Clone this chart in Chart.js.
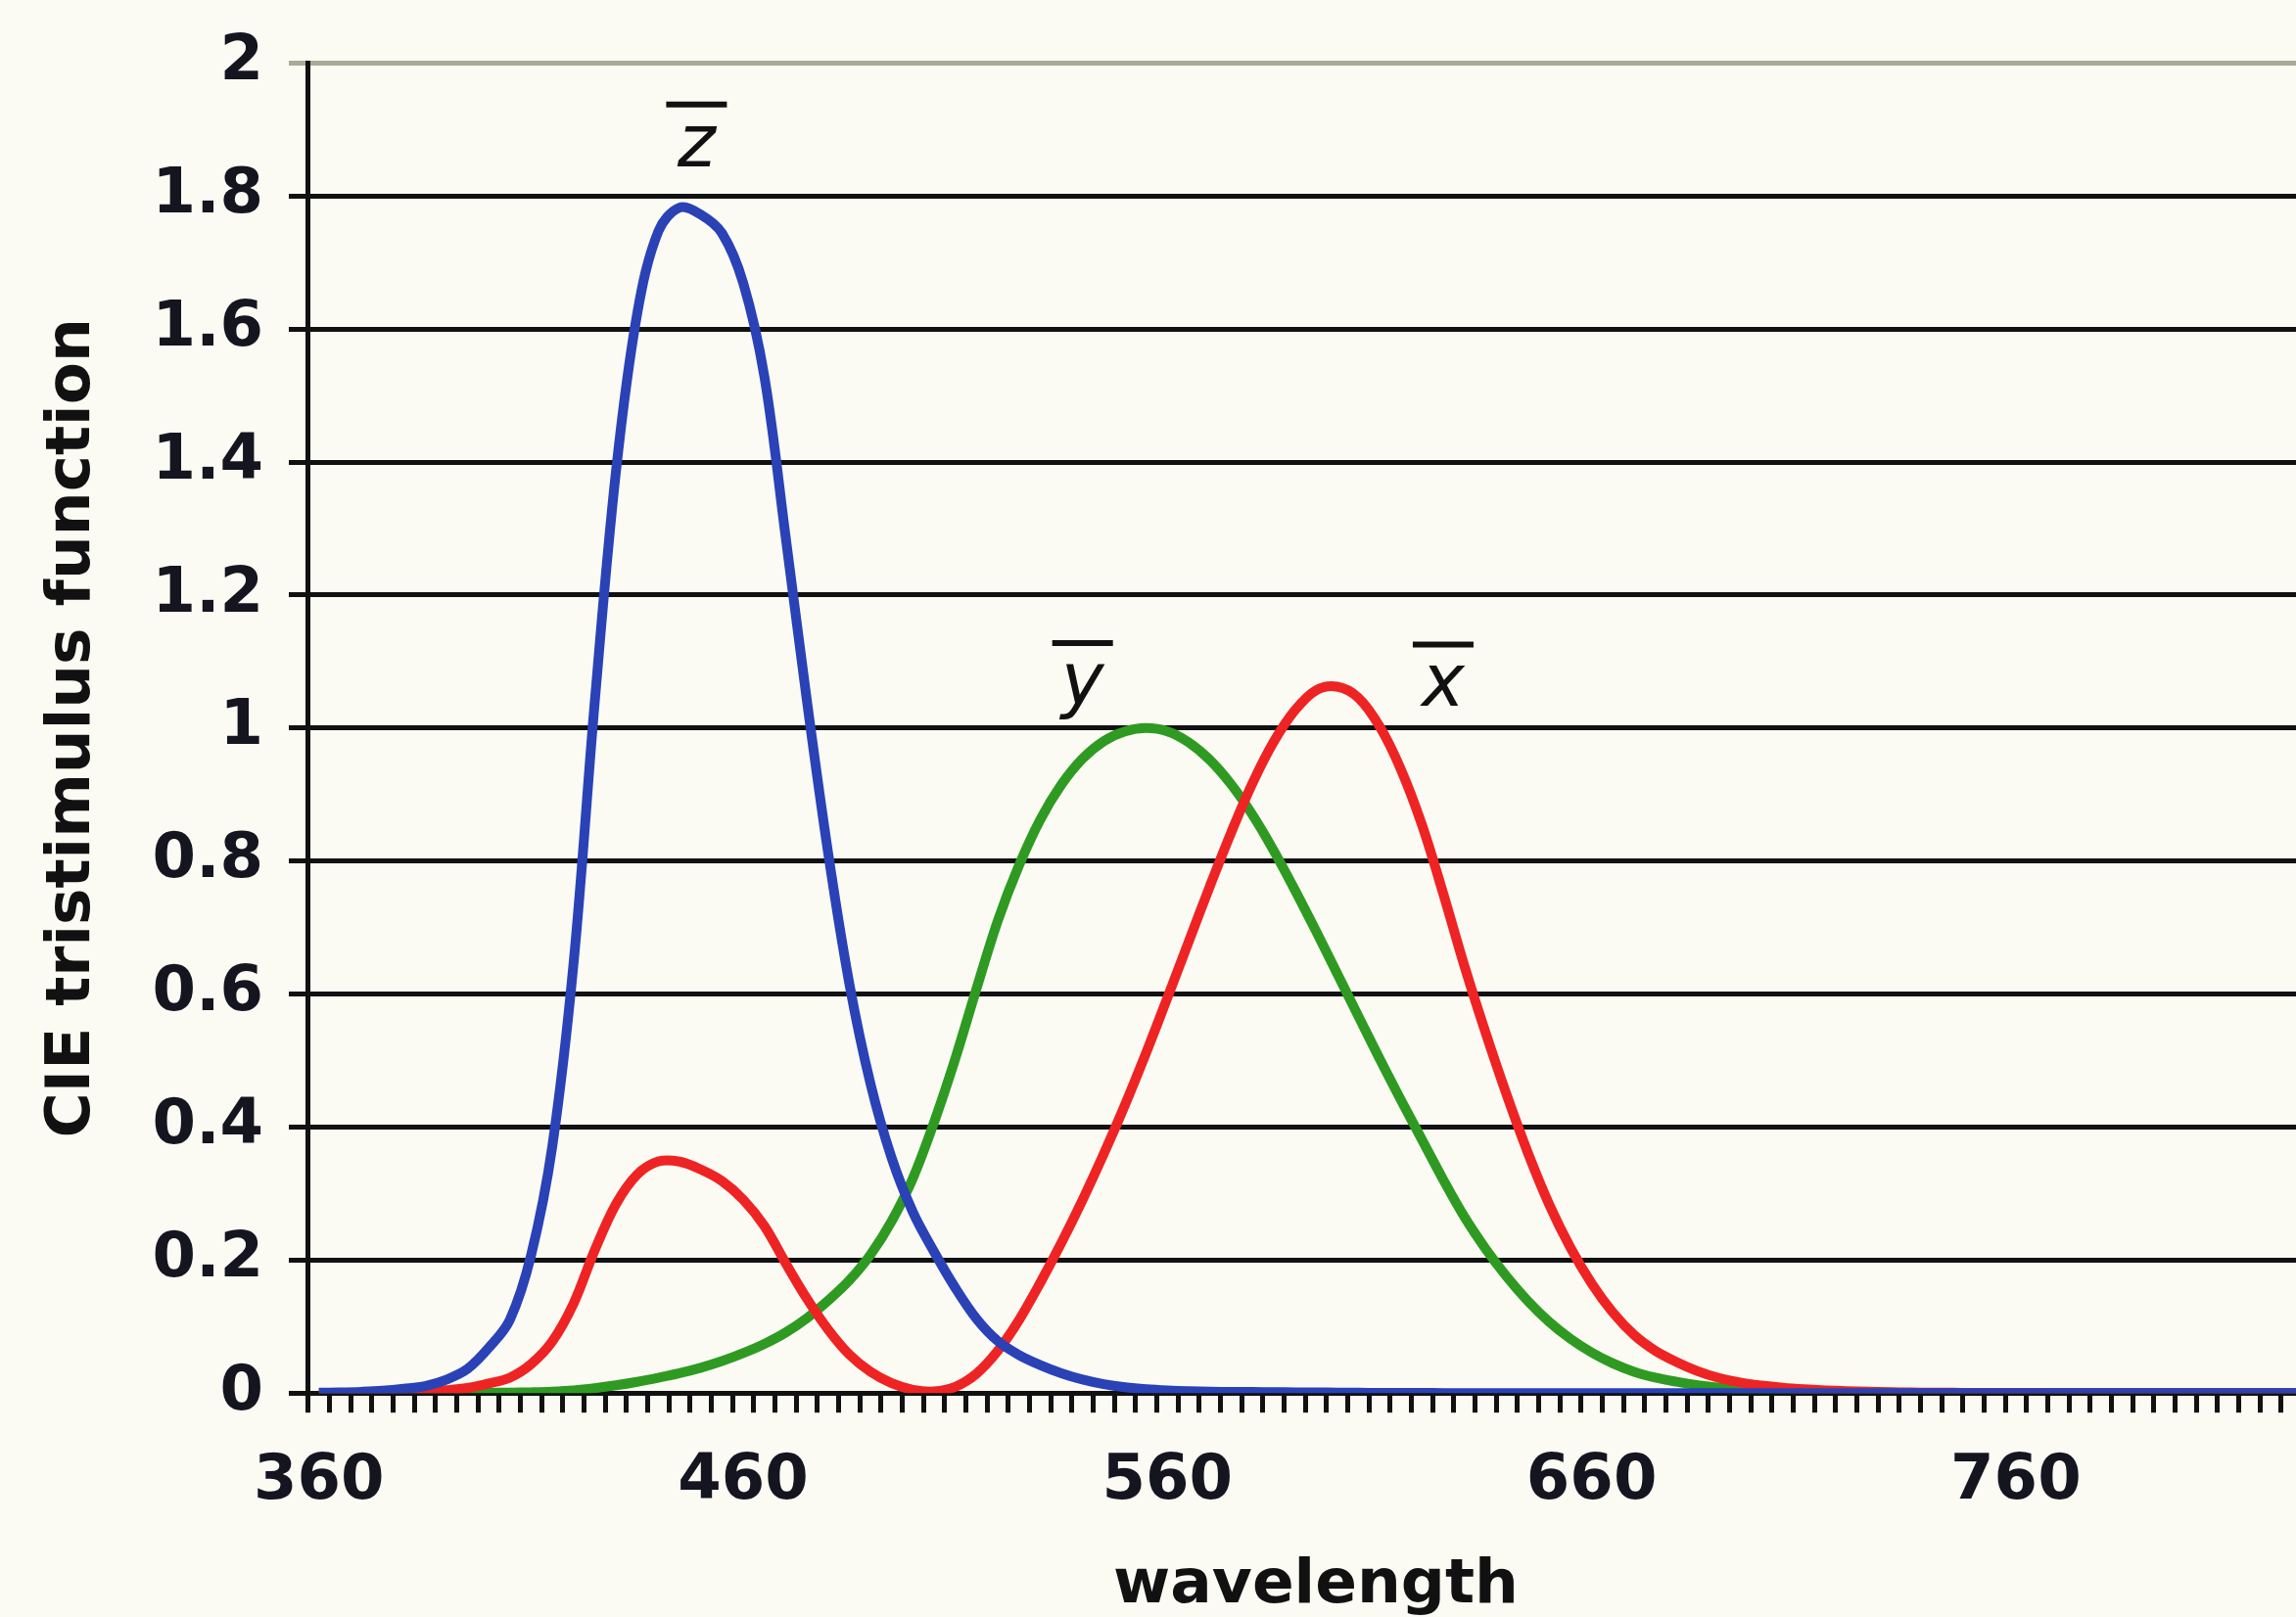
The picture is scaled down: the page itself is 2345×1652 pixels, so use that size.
<!DOCTYPE html>
<html>
<head>
<meta charset="utf-8">
<script src="https://cdn.jsdelivr.net/npm/chart.js@4.4.1/dist/chart.umd.min.js"></script>
<style>
  html, body { margin: 0; padding: 0; background: #fbfbf4; overflow: hidden; }
  #wrap { width: 2400px; height: 1652px; }
</style>
</head>
<body>
<div id="wrap"><canvas id="cie"></canvas></div>
<script>
// CIE 1931 colour matching functions, every 5 nm
const wavelengths = [
  360, 365, 370, 375, 380, 385, 390, 395, 400, 405, 410, 415, 420, 425, 430, 435, 440, 445, 450, 455,
  460, 465, 470, 475, 480, 485, 490, 495, 500, 505, 510, 515, 520, 525, 530, 535, 540, 545, 550, 555,
  560, 565, 570, 575, 580, 585, 590, 595, 600, 605, 610, 615, 620, 625, 630, 635, 640, 645, 650, 655,
  660, 665, 670, 675, 680, 685, 690, 695, 700, 705, 710, 715, 720, 725, 730, 735, 740, 745, 750, 755,
  760, 765, 770, 775, 780, 785, 790, 795, 800, 805, 810, 815, 820, 825, 830
];

const xBar = [
  0.00013, 0.00023, 0.00042, 0.00074, 0.00137, 0.00224, 0.00424, 0.00765, 0.01431, 0.02319,
  0.04351, 0.07763, 0.13438, 0.21477, 0.28390, 0.32850, 0.34828, 0.34806, 0.33620, 0.31870,
  0.29080, 0.25110, 0.19536, 0.14210, 0.09564, 0.05795, 0.03201, 0.01470, 0.00490, 0.00240,
  0.00930, 0.02910, 0.06327, 0.10960, 0.16550, 0.22575, 0.29040, 0.35970, 0.43345, 0.51205,
  0.59450, 0.67840, 0.76210, 0.84250, 0.91630, 0.97860, 1.02630, 1.05670, 1.06220, 1.04560,
  1.00260, 0.93840, 0.85445, 0.75140, 0.64240, 0.54190, 0.44790, 0.36080, 0.28350, 0.21870,
  0.16490, 0.12120, 0.08740, 0.06360, 0.04677, 0.03290, 0.02270, 0.01584, 0.01136, 0.00811,
  0.00579, 0.00411, 0.00290, 0.00205, 0.00144, 0.00100, 0.00069, 0.00048, 0.00033, 0.00024,
  0.00017, 0.00012, 0.00008, 0.00006, 0.00004, 0.00003, 0.00002, 0.00002, 0.00001, 0.00001,
  0.00001, 0, 0, 0, 0
];

const yBar = [
  0.000004, 0.000007, 0.000012, 0.000022, 0.000039, 0.000064, 0.00012, 0.000217, 0.000396, 0.00064,
  0.00121, 0.00218, 0.0040, 0.0073, 0.0116, 0.01684, 0.0230, 0.0298, 0.0380, 0.0480,
  0.0600, 0.0739, 0.09098, 0.1126, 0.13902, 0.1693, 0.20802, 0.2586, 0.3230, 0.4073,
  0.5030, 0.6082, 0.7100, 0.7932, 0.8620, 0.91485, 0.9540, 0.9803, 0.99495, 1.0000,
  0.9950, 0.9786, 0.9520, 0.9154, 0.8700, 0.8163, 0.7570, 0.6949, 0.6310, 0.5668,
  0.5030, 0.4412, 0.3810, 0.3210, 0.2650, 0.2170, 0.1750, 0.1382, 0.1070, 0.0816,
  0.0610, 0.04458, 0.0320, 0.0232, 0.0170, 0.01192, 0.00821, 0.00572, 0.0041, 0.00293,
  0.00209, 0.00148, 0.00105, 0.00074, 0.00052, 0.00036, 0.00025, 0.00017, 0.00012, 0.000085,
  0.00006, 0.000042, 0.00003, 0.000021, 0.000015, 0.00001, 0.000007, 0.000005, 0.000004, 0.000003,
  0.000002, 0.000001, 0.000001, 0, 0
];

const zBar = [
  0.00061, 0.00109, 0.00195, 0.00349, 0.00645, 0.01055, 0.02005, 0.03621, 0.06785, 0.1102,
  0.2074, 0.3713, 0.6456, 1.03905, 1.3856, 1.62296, 1.74706, 1.7826, 1.77211, 1.7441,
  1.6692, 1.5281, 1.28764, 1.0419, 0.81295, 0.6162, 0.46518, 0.3533, 0.2720, 0.2123,
  0.1582, 0.1117, 0.07825, 0.05725, 0.04216, 0.02984, 0.0203, 0.0134, 0.00875, 0.00575,
  0.0039, 0.00275, 0.0021, 0.0018, 0.00165, 0.0014, 0.0011, 0.0010, 0.0008, 0.0006,
  0.00034, 0.00024, 0.00019, 0.0001, 0.00005, 0.00003, 0.00002, 0.00001, 0, 0,
  0, 0, 0, 0, 0, 0, 0, 0, 0, 0,
  0, 0, 0, 0, 0, 0, 0, 0, 0, 0,
  0, 0, 0, 0, 0, 0, 0, 0, 0, 0,
  0, 0, 0, 0, 0
];

// curve names written next to the peaks (letter, wavelength, value of baseline)
const curveNames = ["z", "y", "x"];
const nameWavelengths = [449, 540, 625];
const nameValues = [1.845, 1.035, 1.033];

const FONT = "'DejaVu Sans', Verdana, sans-serif";

const overbarNames = {
  id: "overbarNames",
  afterDatasetsDraw(chart) {
    const { ctx, scales: { x, y } } = chart;
    ctx.save();
    ctx.font = "italic 500 74px " + FONT;
    ctx.fillStyle = "#111";
    ctx.strokeStyle = "#111";
    ctx.lineWidth = 6;
    ctx.textAlign = "center";
    ctx.textBaseline = "alphabetic";
    curveNames.forEach((n, i) => {
      const px = x.getPixelForValue((nameWavelengths[i] - wavelengths[0]) / 5);
      const py = y.getPixelForValue(nameValues[i]);
      ctx.fillText(n, px, py);
      const top = py - 41 - 22;
      ctx.beginPath();
      ctx.moveTo(px - 31, top);
      ctx.lineTo(px + 31, top);
      ctx.stroke();
    });
    ctx.restore();
  }
};

const serie = (data, color) => ({
  data,
  borderColor: color,
  borderWidth: 10,
  pointRadius: 0,
  fill: false,
  tension: 0.35
});

new Chart(document.getElementById("cie"), {
  type: "line",
  data: {
    labels: wavelengths,
    datasets: [
      serie(zBar, "#2a42b6"),
      serie(xBar, "#ee2424"),
      serie(yBar, "#2f9a22")
    ]
  },
  options: {
    responsive: true,
    maintainAspectRatio: false,
    animation: false,
    layout: { padding: { left: 0, top: 62, right: 27, bottom: 0 } },
    plugins: { legend: { display: false }, tooltip: { enabled: false } },
    scales: {
      x: {
        type: "category",
        offset: true,
        grid: {
          offset: true,
          drawOnChartArea: false,
          color: "#111",
          lineWidth: 5,
          tickLength: 20
        },
        border: { display: true, color: "#111", width: 5 },
        ticks: {
          autoSkip: false,
          maxRotation: 0,
          minRotation: 0,
          padding: 33,
          color: "#151520",
          font: { family: FONT, size: 64, weight: "bold" },
          callback: (v, i) => ((wavelengths[i] - 360) % 100 === 0 ? String(wavelengths[i]) : "")
        },
        title: {
          display: true,
          text: "wavelength",
          color: "#111",
          font: { family: FONT, size: 63, weight: "bold", lineHeight: 1.0 },
          padding: { top: 3, bottom: 0 }
        }
      },
      y: {
        min: 0,
        max: 2,
        ticks: {
          stepSize: 0.2,
          padding: 26,
          color: "#151520",
          font: { family: FONT, size: 64, weight: "bold" },
          callback: v => String(+v.toFixed(1))
        },
        grid: {
          color: c => (c.tick && c.tick.value >= 2 ? "#a9ab98" : "#111"),
          lineWidth: 5,
          tickLength: 20
        },
        border: { display: true, color: "#111", width: 5 },
        title: {
          display: true,
          text: "CIE tristimulus function",
          color: "#111",
          font: { family: FONT, size: 63, weight: "bold" },
          padding: { top: 37, bottom: 17 }
        }
      }
    }
  },
  plugins: [overbarNames]
});
</script>
</body>
</html>
